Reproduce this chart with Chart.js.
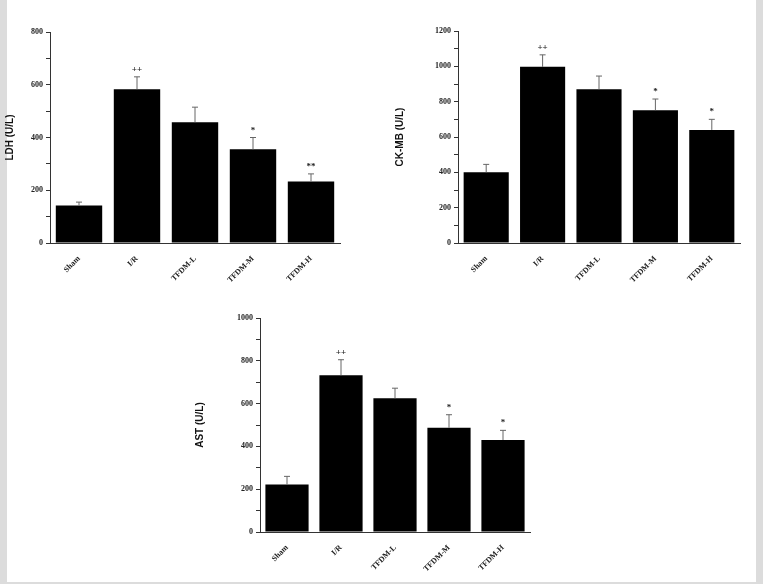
<!DOCTYPE html>
<html>
<head>
<meta charset="utf-8">
<script src="https://cdn.jsdelivr.net/npm/chart.js@4"></script>
<style>
    body { margin: 0; background: #fff; }
    #frame { position: relative; width: 763px; height: 584px; background: #fff; box-sizing: border-box; border-left: 7px solid #dcdcdc; border-right: 7px solid #dcdcdc; border-bottom: 2px solid #dcdcdc; }
    .box { position: absolute; }
</style>
</head>
<body>
<div id="frame">
    <div class="box" style="left:-7px;top:20px;width:350px;height:290px"><canvas id="ldh"></canvas></div>
    <div class="box" style="left:383px;top:20px;width:360px;height:290px"><canvas id="ck"></canvas></div>
    <div class="box" style="left:183px;top:305px;width:360px;height:275px"><canvas id="ast"></canvas></div>
</div>
<script>
// 組別
const groups = ['Sham', 'I/R', 'TFDM-L', 'TFDM-M', 'TFDM-H'];
// LDH
const ldhValues = [142, 583, 458, 355, 233];
const ldhErrTop = [155, 630, 515, 400, 262];
const ldhMarks = ['', '++', '', '*', '**'];
// CK-MB
const ckValues = [400, 997, 870, 752, 640];
const ckErrTop = [445, 1065, 945, 815, 700];
const ckMarks = ['', '++', '', '*', '*'];
// AST
const astValues = [222, 733, 625, 487, 430];
const astErrTop = [260, 805, 672, 548, 475];
const astMarks = ['', '++', '', '*', '*'];

// 誤差線與星號
const errPlugin = {
    id: 'errBars',
    afterDatasetsDraw(chart, args, opts) {
        const ctx = chart.ctx;
        const y = chart.scales.y;
        const meta = chart.getDatasetMeta(0);
        ctx.save();
        meta.data.forEach((bar, i) => {
            const top = y.getPixelForValue(opts.errTop[i]);
            ctx.strokeStyle = '#666';
            ctx.lineWidth = 1;
            ctx.beginPath();
            ctx.moveTo(bar.x, bar.y);
            ctx.lineTo(bar.x, top);
            ctx.moveTo(bar.x - 3, top);
            ctx.lineTo(bar.x + 3, top);
            ctx.stroke();
            if (opts.marks[i]) {
                ctx.fillStyle = '#222';
                ctx.font = 'bold 9px "Liberation Serif"';
                ctx.textAlign = 'center';
                ctx.fillText(opts.marks[i], bar.x, top - 5);
            }
        });
        ctx.restore();
    }
};

function makeChart(id, values, errTop, marks, title, max, yWidth, xHeight, pad) {
    return new Chart(document.getElementById(id), {
        type: 'bar',
        data: {
            labels: groups,
            datasets: [{
                data: values,
                backgroundColor: '#000',
                borderWidth: 0,
                barPercentage: 0.8,
                categoryPercentage: 1
            }]
        },
        options: {
            responsive: true,
            maintainAspectRatio: false,
            animation: false,
            layout: { padding: pad },
            plugins: {
                legend: { display: false },
                tooltip: { enabled: false },
                errBars: { errTop: errTop, marks: marks }
            },
            scales: {
                x: {
                    afterFit: s => { s.height = xHeight; },
                    grid: { display: false, drawTicks: true },
                    border: { color: '#333', width: 1 },
                    ticks: {
                        color: '#222',
                        maxRotation: 45, minRotation: 45,
                        font: { family: 'Liberation Serif', size: 8, weight: 'bold' }
                    }
                },
                y: {
                    min: 0, max: max,
                    afterFit: s => { s.width = yWidth; },
                    title: {
                        display: true, text: title, color: '#111',
                        font: { family: 'Liberation Sans', size: 10, weight: 'bold' }
                    },
                    grid: { drawOnChartArea: false, drawTicks: true, tickLength: 4, color: '#333' },
                    border: { color: '#333', width: 1 },
                    ticks: {
                        stepSize: 100,
                        autoSkip: false,
                        color: '#222',
                        font: { family: 'Liberation Serif', size: 8, weight: 'bold' },
                        callback: v => (v % 200 === 0 ? v : '')
                    }
                }
            }
        },
        plugins: [errPlugin]
    });
}

makeChart('ldh', ldhValues, ldhErrTop, ldhMarks, 'LDH (U/L)', 800, 50, 67, { top: 12, right: 10 });
makeChart('ck', ckValues, ckErrTop, ckMarks, 'CK-MB (U/L)', 1200, 68, 67, { top: 11, right: 10 });
makeChart('ast', astValues, astErrTop, astMarks, 'AST (U/L)', 1000, 70, 48, { top: 13, right: 20 });
</script>
</body>
</html>
